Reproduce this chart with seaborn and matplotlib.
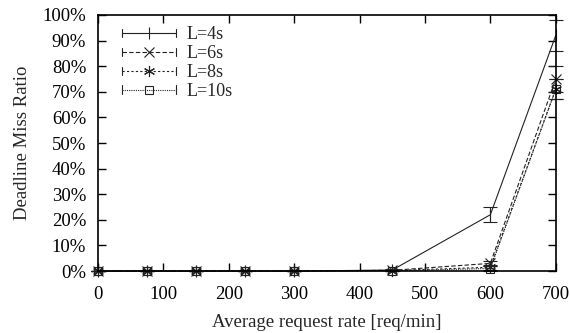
import matplotlib
matplotlib.use("Agg")
import matplotlib.pyplot as plt
import seaborn as sns
import pandas as pd
import numpy as np
from matplotlib.legend_handler import HandlerLine2D
from matplotlib.lines import Line2D

rates = [0, 75, 150, 225, 300, 450, 600, 700]
labels = ["L=4s", "L=6s", "L=8s", "L=10s"]
miss_4 = [0, 0, 0, 0, 0, 0.4, 22, 92]
miss_6 = [0, 0, 0, 0, 0, 0.3, 3, 75]
miss_8 = [0, 0, 0, 0, 0, 0.2, 1.5, 71]
miss_10 = [0, 0, 0, 0, 0, 0.1, 1, 71]
err_4 = [0, 0, 0, 0, 0, 0.3, 3, 6]
err_6 = [0, 0, 0, 0, 0, 0.2, 1, 5]
err_8 = [0, 0, 0, 0, 0, 0.1, 1, 4]
err_10 = [0, 0, 0, 0, 0, 0.1, 1, 4]

sns.set_style("ticks")
plt.rcParams["font.family"] = ["Liberation Serif", "DejaVu Serif"]

fig = plt.figure(figsize=(5.7, 3.33), dpi=100)
ax = fig.add_axes([0.172, 0.186, 0.803, 0.769])

series = [miss_4, miss_6, miss_8, miss_10]
errs = [err_4, err_6, err_8, err_10]
styles = ["-", (0, (4, 2)), (0, (2, 2)), (0, (1, 1))]
markers = ["|", "x", (6, 2, 0), "s"]
msizes = [9, 7, 8, 6]
color = "#222222"

rows = []
for lab, vals in zip(labels, series):
    for r, v in zip(rates, vals):
        rows.append({"rate": r, "miss": v, "L": lab})
df = pd.DataFrame(rows)

for lab, ls, mk, ms, e in zip(labels, styles, markers, msizes, errs):
    sub = df[df["L"] == lab]
    sns.lineplot(data=sub, x="rate", y="miss", ax=ax, color=color, lw=0.8,
                 linestyle=ls, marker=mk, markersize=ms, markerfacecolor="none",
                 markeredgecolor=color, markeredgewidth=0.8, label=lab)
    ax.errorbar(sub["rate"], sub["miss"], yerr=e, fmt="none", ecolor=color,
                elinewidth=0.8, capsize=5, capthick=0.8)

ax.set_xlim(0, 700)
ax.set_ylim(0, 100)
ax.set_xticks(range(0, 701, 100))
ax.set_yticks(range(0, 101, 10))
ax.set_yticklabels([f"{v}%" for v in range(0, 101, 10)])
ax.tick_params(direction="in", top=True, right=True, length=6, width=1,
               labelsize=13.5, colors="black")
ax.tick_params(axis="x", pad=10.5)
ax.tick_params(axis="y", pad=8.5)
for sp in ax.spines.values():
    sp.set_visible(True)
    sp.set_linewidth(1.2)
    sp.set_color("black")
ax.set_xlabel("Average request rate [req/min]", fontsize=13.5, labelpad=8)
ax.set_ylabel("Deadline Miss Ratio", fontsize=13.5, labelpad=8.6)
for ln in ax.lines:
    ln.set_clip_on(False)


class CapHandler(HandlerLine2D):
    def create_artists(self, legend, orig_handle, xdescent, ydescent, width,
                       height, fontsize, trans):
        arts = super().create_artists(legend, orig_handle, xdescent, ydescent,
                                      width, height, fontsize, trans)
        y = height / 2 - ydescent
        h = 3.0
        for x in (-xdescent, -xdescent + width):
            cap = Line2D([x, x], [y - h, y + h], color=color, lw=0.8)
            cap.set_transform(trans)
            arts.append(cap)
        return arts


handles, labs = ax.get_legend_handles_labels()
leg = ax.legend(handles, labs, loc="upper left", bbox_to_anchor=(0.0, 1.047),
                frameon=False, fontsize=13, handlelength=3.0,
                handletextpad=0.6, labelspacing=0.1, borderaxespad=0.9,
                handler_map={h: CapHandler(numpoints=1) for h in handles})

fig.savefig("out.png", dpi=100)
